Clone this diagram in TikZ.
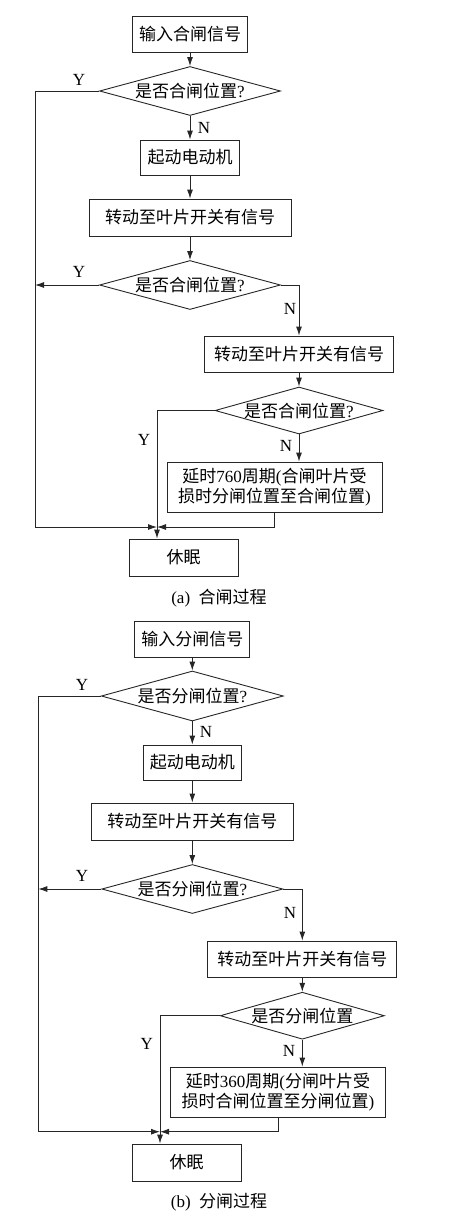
\documentclass[tikz,border=0pt]{standalone}
\usepackage{fontspec}
\setmainfont{Liberation Serif}
\newfontfamily\cjk{Noto Sans CJK SC}
\newcommand{\zh}[1]{{\cjk #1}}
\usetikzlibrary{arrows.meta,shapes.geometric,calc}

\begin{document}
\begin{tikzpicture}[
    x=1pt, y=-1pt,
    >={Latex[length=9pt,width=6pt]},
    font=\fontsize{17}{20}\selectfont,
    box/.style={
        draw=black!85,
        line width=0.9pt,
        minimum height=36pt,
        inner sep=2pt,
        align=center
    },
    dec/.style={
        draw=black!85,
        line width=0.9pt,
        diamond,
        aspect=3.7,
        inner sep=0pt,
        minimum width=181pt,
        minimum height=49pt
    },
    lbl/.style={inner sep=0pt},
    arr/.style={->, draw=black!85, line width=0.9pt},
    ln/.style={draw=black!85, line width=0.9pt}
]
\useasboundingbox (0,0) rectangle (469,1221);

% (a) closing
\node[box, minimum width=115pt] (in1) at (190,34) {\zh{输入合闸信号}};
\node[dec] (dec1) at (190,91) {\zh{是否合闸位置}?};
\node[box, minimum width=99pt, minimum height=35pt] (mot1) at (190,157.5) {\zh{起动电动机}};
\node[box, minimum width=202pt, minimum height=37pt] (rot1) at (190,217.5) {\zh{转动至叶片开关有信号}};
\node[dec] (dec2) at (190,285) {\zh{是否合闸位置}?};
\node[box, minimum width=189pt] (rot2) at (299,354) {\zh{转动至叶片开关有信号}};
\node[dec, minimum width=164pt, minimum height=47pt] (dec3) at (299,410.5) {\zh{是否合闸位置}?};
\node[box, minimum width=215pt, minimum height=50pt] (del1) at (274.5,487)
{\zh{延时}760\zh{周期}(\zh{合闸叶片受}\\\zh{损时分闸位置至合闸位置})};
\node[box, minimum width=109pt, minimum height=37pt] (slp1) at (183.5,557.5) {\zh{休眠}};
\node[lbl] (cap1) at (219,598) {(a)\ \ \zh{合闸过程}};

\coordinate (jn1) at (157,527);
\coordinate (lf1) at (35,527);

\node[lbl] (ya1) at (79,80) {Y};
\node[lbl] (ya2) at (79,272) {Y};
\node[lbl] (ya3) at (144,440) {Y};
\node[lbl] (na1) at (204,128) {N};
\node[lbl] (na2) at (290,309) {N};
\node[lbl] (na3) at (286,446) {N};

\draw[arr] (in1) -- (dec1);
\draw[arr] (dec1) -- (mot1);
\draw[arr] (mot1) -- (rot1);
\draw[arr] (rot1) -- (dec2);
\draw[arr] (dec2.east) -| (rot2.north);
\draw[arr] (rot2) -- (dec3);
\draw[arr] (dec3.south) -- (dec3.south |- del1.north);
\draw[arr] (dec1.west) -| (lf1) -- (jn1);
\draw[arr] (dec2.west) -- (dec2.west -| lf1);
\draw[ln] (dec3.west) -| (jn1);
\draw[arr] (del1.south) |- (jn1);
\draw[arr] (jn1) -- (jn1 |- slp1.north);

% (b) opening
\node[box, minimum width=115pt] (in2) at (192.3,639) {\zh{输入分闸信号}};
\node[dec, minimum width=182pt, minimum height=50pt] (dec4) at (192.3,696) {\zh{是否分闸位置}?};
\node[box, minimum width=98pt, minimum height=35pt] (mot2) at (192.3,762.5) {\zh{起动电动机}};
\node[box, minimum width=202pt, minimum height=37pt] (rot3) at (192.3,821.5) {\zh{转动至叶片开关有信号}};
\node[dec] (dec5) at (192.3,889) {\zh{是否分闸位置}?};
\node[box, minimum width=189pt] (rot4) at (302.3,959) {\zh{转动至叶片开关有信号}};
\node[dec, minimum width=164pt, minimum height=47pt] (dec6) at (302.3,1015.7) {\zh{是否分闸位置}};
\node[box, minimum width=215pt, minimum height=50pt] (del2) at (278,1092)
{\zh{延时}360\zh{周期}(\zh{分闸叶片受}\\\zh{损时合闸位置至分闸位置})};
\node[box, minimum width=109pt, minimum height=37pt] (slp2) at (186.5,1162.5) {\zh{休眠}};
\node[lbl] (cap2) at (219,1201.7) {(b)\ \ \zh{分闸过程}};

\coordinate (jn2) at (160,1131.7);
\coordinate (lf2) at (38.3,1131.7);

\node[lbl] (yb1) at (82,685) {Y};
\node[lbl] (yb2) at (82,876) {Y};
\node[lbl] (yb3) at (146.7,1044) {Y};
\node[lbl] (nb1) at (206,732) {N};
\node[lbl] (nb2) at (290,913) {N};
\node[lbl] (nb3) at (289,1050.7) {N};

\draw[arr] (in2) -- (dec4);
\draw[arr] (dec4) -- (mot2);
\draw[arr] (mot2) -- (rot3);
\draw[arr] (rot3) -- (dec5);
\draw[arr] (dec5.east) -| (rot4.north);
\draw[arr] (rot4) -- (dec6);
\draw[arr] (dec6.south) -- (dec6.south |- del2.north);
\draw[arr] (dec4.west) -| (lf2) -- (jn2);
\draw[arr] (dec5.west) -- (dec5.west -| lf2);
\draw[ln] (dec6.west) -| (jn2);
\draw[arr] (del2.south) |- (jn2);
\draw[arr] (jn2) -- (jn2 |- slp2.north);

\end{tikzpicture}
\end{document}
